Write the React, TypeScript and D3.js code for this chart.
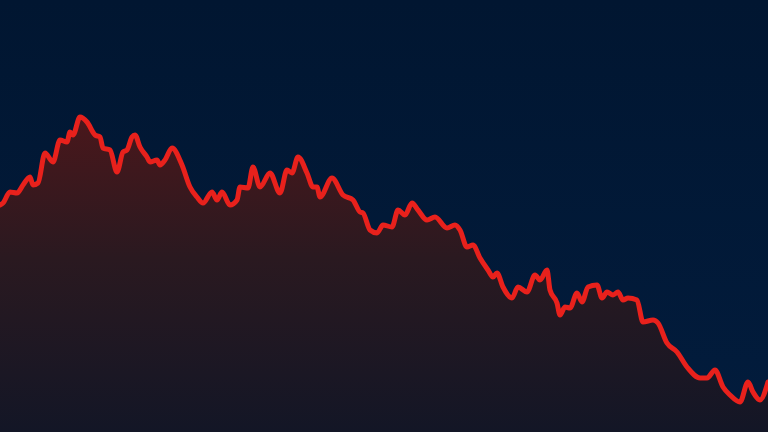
import React from "react";
import * as d3 from "d3";

const W = 768;
const H = 432;

const steps = [0,3,10,17,23,30,33,38,45,53,60,67,70,73,80,87,95,100,103,110,117,123,127,132,135,140,147,150,157,160,165,172,182,190,197,203,212,217,222,230,237,240,248,253,260,270,280,287,292,298,307,313,317,320,332,343,353,360,363,370,377,383,392,398,405,412,418,427,435,447,455,460,467,473,480,488,493,497,503,512,518,527,535,540,547,550,557,560,565,570,577,582,588,597,602,607,613,618,623,628,637,643,653,658,667,677,687,700,707,715,723,730,740,748,753,760,768];
const prices = [227,229,240,239,247,255,247,249,279,270,292,290,300,297,315,310,297,295,284,282,260,280,282,295,297,285,275,270,272,267,272,284,267,245,235,229,240,232,240,227,232,245,244,265,245,259,239,262,259,275,259,245,245,235,254,237,232,220,219,202,199,207,205,222,217,229,222,212,215,204,207,202,185,187,174,162,155,159,145,134,145,140,157,152,162,142,129,117,125,124,139,130,145,147,134,140,137,140,132,134,132,110,112,109,89,80,65,54,54,62,45,37,30,50,40,32,50];

export default function App() {
  const x = d3.scaleLinear().domain([0, 768]).range([0, W]);
  const y = d3.scaleLinear().domain([0, 432]).range([H, 0]);
  const data = steps.map((s, i) => ({ s, v: prices[i] }));
  const line = d3
    .line<{ s: number; v: number }>()
    .x((d) => x(d.s))
    .y((d) => y(d.v))
    .curve(d3.curveMonotoneX);
  const area = d3
    .area<{ s: number; v: number }>()
    .x((d) => x(d.s))
    .y0(H)
    .y1((d) => y(d.v))
    .curve(d3.curveMonotoneX);
  return (
    <svg
      width={W}
      height={H}
      style={{ position: "fixed", left: 0, top: 0, display: "block" }}
    >
      <defs>
        <linearGradient id="bg" x1="0" y1="0" x2="0" y2="1">
          <stop offset="0%" stopColor="#011631" />
          <stop offset="100%" stopColor="#021c3d" />
        </linearGradient>
        <linearGradient id="fill" x1="0" y1="0" x2="0" y2={H} gradientUnits="userSpaceOnUse">
          <stop offset="25%" stopColor="#4c171b" />
          <stop offset="60%" stopColor="#2a1920" />
          <stop offset="100%" stopColor="#131626" />
        </linearGradient>
      </defs>
      <rect x={0} y={0} width={W} height={H} fill="url(#bg)" />
      <path d={area(data) || ""} fill="url(#fill)" />
      <path
        d={line(data) || ""}
        fill="none"
        stroke="#e8211c"
        strokeWidth={5}
        strokeLinejoin="round"
        strokeLinecap="round"
      />
    </svg>
  );
}
